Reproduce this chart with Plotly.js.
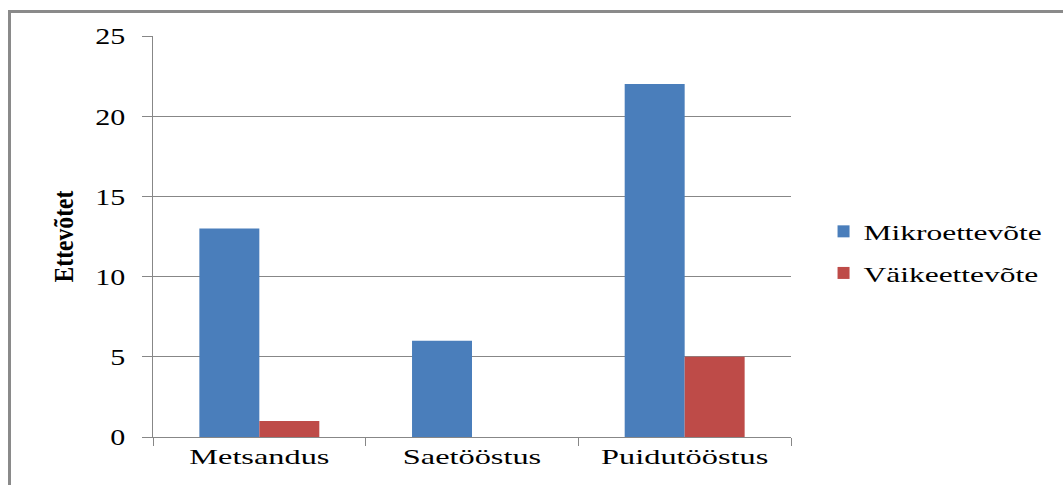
<!DOCTYPE html>
<html>
<head>
<meta charset="utf-8">
<script src="https://cdn.plot.ly/plotly-3.0.1.min.js"></script>
<style>
  html, body { margin: 0; padding: 0; background: #fff; }
  #wrap { position: relative; width: 1063px; height: 485px; overflow: hidden; }
  #chart { position: absolute; left: 0; top: 0; width: 1063px; height: 485px; }
  #frame { position: absolute; left: 8px; top: 10px; width: 1100px; height: 600px;
           border-left: 3px solid #8a8a8a; border-top: 3px solid #8a8a8a; pointer-events: none; }
</style>
</head>
<body>
<div id="wrap">
  <div id="chart"></div>
  <div id="frame"></div>
</div>
<script>
// Data
var categories = ["Metsandus", "Saetööstus", "Puidutööstus"];
var seriesNames = ["Mikroettevõte", "Väikeettevõte"];
var mikroValues = [13, 6, 22];
var vaikeValues = [1, 0, 5];
var yTitle = "Ettevõtet";

var FONT = "'Liberation Serif', 'Times New Roman', serif";
var GRAY = "#878787";

var traces = [
  { type: "bar", name: seriesNames[0], x: categories, y: mikroValues,
    marker: { color: "#4A7EBB" }, legendgroup: "a", hoverinfo: "none" },
  { type: "bar", name: seriesNames[1], x: categories, y: vaikeValues,
    marker: { color: "#BE4B48" }, legendgroup: "b", hoverinfo: "none" }
];

var layout = {
  width: 1063, height: 485,
  margin: { l: 153, r: 272, t: 36, b: 48, pad: 0 },
  paper_bgcolor: "#ffffff", plot_bgcolor: "#ffffff",
  barmode: "group", bargap: 0.436, bargroupgap: 0,
  font: { family: FONT, color: "#000" },
  xaxis: {
    type: "category", showline: true, linecolor: GRAY, linewidth: 1,
    ticks: "outside", tickson: "boundaries", ticklen: 8, tickcolor: GRAY,
    showgrid: false, zeroline: false,
    tickfont: { family: FONT, size: 22, color: "#000" }
  },
  yaxis: {
    range: [0, 25], dtick: 5, tick0: 0,
    showline: true, linecolor: GRAY, linewidth: 1,
    ticks: "outside", ticklen: 10, tickcolor: GRAY,
    showgrid: true, gridcolor: GRAY, gridwidth: 1, zeroline: false,
    tickfont: { family: FONT, size: 24, color: "#000" },
    ticklabelstandoff: 12,
    title: { text: yTitle, font: { family: FONT, size: 27, color: "#000", weight: "bold" }, standoff: 19 }
  },
  showlegend: true,
  legend: {
    x: 1.051, xanchor: "left", y: 0.46, yanchor: "middle",
    traceorder: "grouped", tracegroupgap: 10,
    font: { family: FONT, size: 22, color: "#000" },
    bgcolor: "rgba(0,0,0,0)", borderwidth: 0
  }
};

function stretch(nodes, factor) {
  for (var i = 0; i < nodes.length; i++) {
    var t = nodes[i];
    var len = t.getComputedTextLength();
    if (len > 0) {
      t.setAttribute("textLength", (len * factor).toFixed(1));
      t.setAttribute("lengthAdjust", "spacingAndGlyphs");
    }
  }
}

Plotly.newPlot("chart", traces, layout, { staticPlot: true, displayModeBar: false }).then(function (gd) {
  stretch(gd.querySelectorAll(".xtick text"), 1.47);
  stretch(gd.querySelectorAll(".ytick text"), 1.25);
  stretch(gd.querySelectorAll(".legendtext"), 1.43);
  stretch(gd.querySelectorAll(".ytitle"), 0.875);
  var boxes = gd.querySelectorAll(".legend .scrollbox, .legend");
  for (var i = 0; i < boxes.length; i++) boxes[i].removeAttribute("clip-path");
});
</script>
</body>
</html>
